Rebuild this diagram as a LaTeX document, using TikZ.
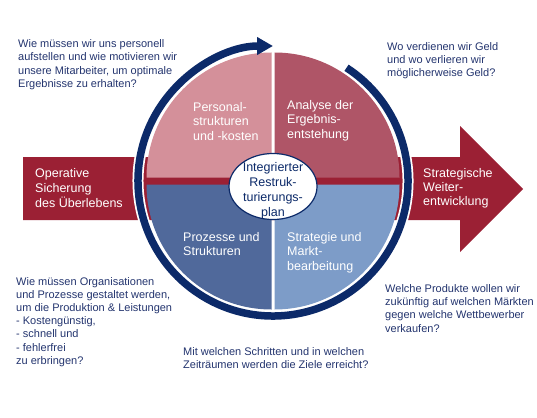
\documentclass[tikz,border=0pt]{standalone}
\usepackage{fontspec}
\setmainfont{Liberation Sans}
\usetikzlibrary{arrows.meta,shapes.geometric}
\definecolor{navy}{RGB}{12,42,105}
\definecolor{qtext}{RGB}{35,52,110}
\definecolor{arrowred}{RGB}{155,32,52}
\definecolor{quadTL}{RGB}{212,144,154}
\definecolor{quadTR}{RGB}{175,85,103}
\definecolor{quadBL}{RGB}{80,105,155}
\definecolor{quadBR}{RGB}{125,156,200}
\begin{document}
\begin{tikzpicture}[x=1pt,y=-1pt]
    \tikzstyle{question}=[anchor=north west, inner sep=0pt, align=left, text=qtext, font=\fontsize{11}{13.5}\selectfont]
    \tikzstyle{quad label}=[anchor=north west, inner sep=0pt, align=left, text=white, font=\fontsize{12.5}{14.5}\selectfont]
    \tikzstyle{arrow label}=[quad label, font=\fontsize{12.5}{15}\selectfont]
    \tikzstyle{ring}=[line width=7.5pt, draw=navy]

    \useasboundingbox (0,0) rectangle (537,417);
    \coordinate (C) at (273,181);

    % Draw the big arrow behind the circle
    \fill[arrowred] (23,157) -- (460,157) -- (460,126) -- (523,189) -- (460,252) -- (460,220) -- (23,220) -- cycle;

    % Draw the four quadrants
    \foreach \name/\a/\dx/\dy in {BR/0/1.5/3.5, BL/90/-1.5/3.5, TL/180/-1.5/-3.5, TR/270/1.5/-3.5}
        \fill[quad\name] ([shift={(\dx,\dy)}]C) -- +(\a:125) arc[start angle=\a, delta angle=90, radius=125] -- cycle;

    % Draw the ring with its arrow head
    \draw[ring, draw=white, line width=11pt] (C) ++(-57:135) arc[start angle=-57, end angle=270, radius=135];
    \draw[ring, -{Triangle[length=16pt,width=17pt]}] (C) ++(-57:135) arc[start angle=-57, end angle=270, radius=135];

    % The plan in the middle
    \node[ellipse, draw=navy, line width=1.2pt, fill=white, minimum width=88pt, minimum height=66pt, inner sep=0pt] (plan) at (273,186.5) {};
    \node[align=center, inner sep=0pt, text=navy, font=\fontsize{12.5}{15}\selectfont] (plantext) at (273,190.5) {Integrierter\\Restruk-\\turierungs-\\plan};

    % Annotate the quadrants
    \node[quad label] (TL) at (193,102) {Personal-\\strukturen\\und -kosten};
    \node[quad label] (TR) at (287,100) {Analyse der\\Ergebnis-\\entstehung};
    \node[quad label] (BL) at (183,232) {Prozesse und\\Strukturen};
    \node[quad label] (BR) at (287,232) {Strategie und\\Markt-\\bearbeitung};

    % Annotate the arrow
    \node[arrow label] (op) at (35,168) {Operative\\Sicherung\\des Überlebens};
    \node[arrow label, font=\fontsize{12.5}{14}\selectfont] (st) at (423,168) {Strategische\\Weiter-\\entwicklung};

    % The questions around the circle
    \node[question] (qTL) at (18,39) {Wie müssen wir uns personell\\aufstellen und wie motivieren wir\\unsere Mitarbeiter, um optimale\\Ergebnisse zu erhalten?};
    \node[question, font=\fontsize{11}{13}\selectfont] (qTR) at (387,42) {Wo verdienen wir Geld\\und wo verlieren wir\\möglicherweise Geld?};
    \node[question, font=\fontsize{11}{13.2}\selectfont] (qBL) at (16,277) {Wie müssen Organisationen\\und Prozesse gestaltet werden,\\um die Produktion \& Leistungen\\- Kostengünstig,\\- schnell und\\- fehlerfrei\\zu erbringen?};
    \node[question] (qBC) at (183,347) {Mit welchen Schritten und in welchen\\Zeiträumen werden die Ziele erreicht?};
    \node[question, font=\fontsize{11}{13.3}\selectfont] (qBR) at (385,284) {Welche Produkte wollen wir\\zukünftig auf welchen Märkten\\gegen welche Wettbewerber\\verkaufen?};
\end{tikzpicture}
\end{document}
